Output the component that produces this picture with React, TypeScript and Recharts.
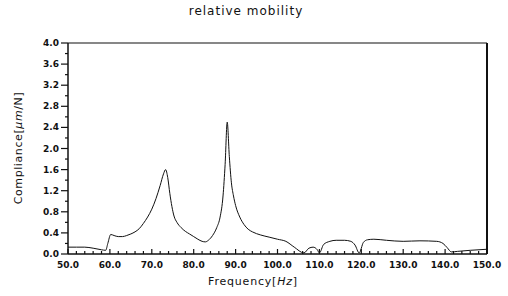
import { LineChart, Line, XAxis, YAxis, ReferenceLine } from 'recharts';

const freq = [
  50, 52, 54, 56, 58, 59, 59.5, 60.2, 61, 62, 63, 64, 65, 66, 67, 68, 69, 70, 71, 72, 72.8, 73.3, 73.8,
  74.3, 74.8, 75.3, 76, 77, 78, 79, 80, 81, 82, 82.8, 83.5, 84.5, 85.5, 86.3, 87, 87.5, 88, 88.5, 89,
  89.5, 90, 91, 92, 93, 94, 96, 98, 100, 102, 104, 106.3, 107.5, 108.5, 109.5, 110, 111, 112.5, 114,
  116, 117.5, 118.5, 119.5, 120.5, 121.5, 123, 126, 130, 134, 138, 139.5, 140.5, 141.5, 143, 146, 150,
];
const compliance = [
  0.13, 0.13, 0.13, 0.11, 0.08, 0.07, 0.2, 0.37, 0.35, 0.33, 0.33, 0.35, 0.38, 0.42, 0.48, 0.58, 0.7,
  0.85, 1.05, 1.3, 1.52, 1.6, 1.45, 1.15, 0.9, 0.72, 0.6, 0.5, 0.43, 0.38, 0.33, 0.28, 0.24, 0.23, 0.26,
  0.35, 0.5, 0.7, 1.1, 1.7, 2.5, 1.85, 1.35, 1.1, 0.92, 0.7, 0.56, 0.47, 0.42, 0.36, 0.32, 0.28, 0.24,
  0.13, 0.02, 0.11, 0.13, 0.08, 0.02, 0.18, 0.24, 0.26, 0.26, 0.24, 0.17, 0.02, 0.22, 0.27, 0.28, 0.26,
  0.24, 0.25, 0.24, 0.2, 0.12, 0.04, 0.05, 0.07, 0.09,
];
const yTicks = [0, 0.2, 0.4, 0.6, 0.8, 1.0, 1.2, 1.4, 1.6, 1.8, 2.0, 2.2, 2.4, 2.6, 2.8, 3.0, 3.2, 3.4, 3.6, 3.8, 4.0];
const xTicks = Array.from({ length: 51 }, (_, i) => 50 + i * 2);

const data = freq.map((f, i) => ({ f, c: compliance[i] }));

const font = "'DejaVu Sans', sans-serif";

function YTick({ x, y, payload }: any) {
  const v = payload.value as number;
  const major = Math.round(v * 10) % 4 === 0;
  return (
    <g>
      <line x1={x - (major ? 7 : 3)} x2={x} y1={y} y2={y} stroke="#111" strokeWidth={1.2} />
      {major && (
        <text x={x - 9} y={y} dy={3} textAnchor="end" fontSize={9} fontWeight="bold" fontFamily={font} fill="#111">
          {v.toFixed(1)}
        </text>
      )}
    </g>
  );
}

function XTick({ x, y, payload }: any) {
  const v = payload.value as number;
  const major = v % 10 === 0;
  return (
    <g>
      <line x1={x} x2={x} y1={y} y2={y - (major ? 5 : 3)} stroke="#111" strokeWidth={1.2} />
      {major && (
        <text x={x} y={y + 14} textAnchor="middle" fontSize={9} fontWeight="bold" fontFamily={font} fill="#111">
          {v.toFixed(1)}
        </text>
      )}
    </g>
  );
}

export default function App() {
  return (
    <div style={{ position: 'absolute', left: 0, top: 0, width: 508, height: 296, background: '#fff', fontFamily: font }}>
      <div style={{ position: 'absolute', left: 0, width: 492, top: 4, textAlign: 'center', fontSize: 12, letterSpacing: 1, color: '#111' }}>
        relative mobility
      </div>
      <div style={{ position: 'absolute', left: 0, width: 508, top: 275, textAlign: 'center', fontSize: 11, letterSpacing: 0.8, color: '#111' }}>
        <span style={{ position: 'absolute', left: 253, transform: 'translateX(-50%)', whiteSpace: 'nowrap' }}>Frequency[<i>Hz</i>]</span>
      </div>
      <div
        style={{
          position: 'absolute', left: 18, top: 148, fontSize: 11, letterSpacing: 0.6, color: '#111', whiteSpace: 'nowrap',
          transform: 'translate(-50%, -50%) rotate(-90deg)',
        }}
      >
        Compliance[<i>μm</i>/N]
      </div>
      <LineChart width={508} height={296} data={data} margin={{ top: 43, right: 21, bottom: 0, left: 0 }}>
        <XAxis dataKey="f" type="number" domain={[50, 150]} ticks={xTicks} interval={0} height={42}
          tickSize={0} tickMargin={0} tickLine={false} tick={<XTick />} axisLine={{ stroke: '#111', strokeWidth: 1.5 }} />
        <YAxis type="number" domain={[0, 4]} ticks={yTicks} interval={0} width={68}
          tickSize={0} tickMargin={0} tickLine={false} tick={<YTick />} axisLine={{ stroke: '#111', strokeWidth: 1.5 }} />
        <ReferenceLine y={4} stroke="#111" strokeWidth={1.2} />
        <ReferenceLine x={150} stroke="#111" strokeWidth={2} />
        <Line type="monotone" dataKey="c" stroke="#111" strokeWidth={1} dot={false} isAnimationActive={false} />
      </LineChart>
    </div>
  );
}
